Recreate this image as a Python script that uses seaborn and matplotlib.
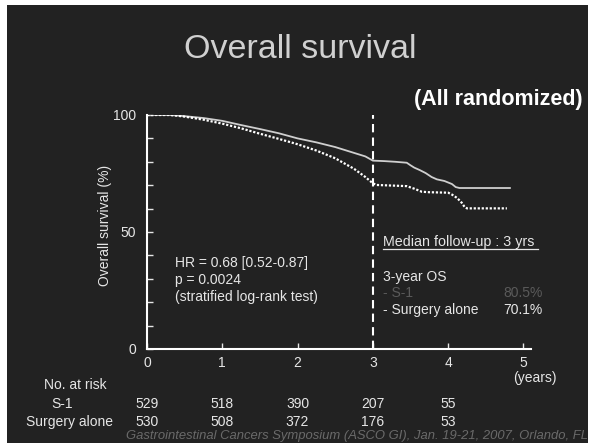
import numpy as np
import pandas as pd
import seaborn as sns
import matplotlib
matplotlib.use("Agg")
import matplotlib.pyplot as plt

# ---- data ----
s1_time = [0, 0.3, 0.4, 0.5, 0.75, 1.0, 1.25, 1.5, 1.75, 2.0, 2.25, 2.5, 2.75, 2.9, 3.0,
           3.15, 3.3, 3.45, 3.5, 3.55, 3.62, 3.7, 3.78, 3.85, 3.95, 4.05, 4.1, 4.15, 4.82]
s1_surv = [100, 100, 99.8, 99.5, 98.7, 97.5, 95.7, 94.0, 92.2, 90.0, 88.3, 86.3, 83.8, 82.3, 80.5,
           80.3, 80.0, 79.6, 78.5, 77.5, 76.5, 75.2, 73.5, 72.5, 71.8, 70.5, 69.2, 68.8, 68.8]
sa_time = [0, 0.3, 0.4, 0.5, 0.75, 1.0, 1.25, 1.5, 1.75, 2.0, 2.25, 2.5, 2.75, 2.9, 3.0,
           3.05, 3.45, 3.55, 3.65, 3.75, 4.0, 4.05, 4.12, 4.18, 4.22, 4.25, 4.78]
sa_surv = [100, 100, 99.7, 99.3, 98.0, 96.3, 94.3, 92.0, 89.8, 87.5, 84.8, 81.5, 77.0, 73.5, 70.8,
           70.1, 69.6, 68.5, 67.2, 67.0, 66.8, 66.0, 64.5, 62.5, 60.6, 60.1, 60.1]

x_ticks = [0, 1, 2, 3, 4, 5]
y_ticks = [0, 50, 100]
risk_times = [0, 1, 2, 3, 4]
risk_s1 = [529, 518, 390, 207, 55]
risk_sa = [530, 508, 372, 176, 53]

df_s1 = pd.DataFrame({"time": s1_time, "surv": s1_surv})
df_sa = pd.DataFrame({"time": sa_time, "surv": sa_surv})

W, H = 598, 443
fig = plt.figure(figsize=(W / 100, H / 100), dpi=100, facecolor="white")
bg = fig.add_axes([7 / W, 0, (588 - 7) / W, (H - 5) / H], zorder=-5)
bg.set_facecolor("#222222")
bg.set_xticks([]); bg.set_yticks([])
for sp in bg.spines.values():
    sp.set_visible(False)

ax = fig.add_axes([147 / W, (H - 349) / H, (531 - 147) / W, (349 - 115) / H], zorder=2)
ax.set_facecolor("none")

fg = "#e6e6e6"
sns.lineplot(data=df_s1, x="time", y="surv", ax=ax, estimator=None, sort=False,
             color="#cfcfcf", lw=1.3, legend=False)
sns.lineplot(data=df_sa, x="time", y="surv", ax=ax, estimator=None, sort=False,
             color="white", lw=1.6, ls=(0, (1, 0.8)), legend=False)

ax.axvline(3, ymin=0, ymax=1.0, color="white", lw=1.5, ls=(0, (4, 2.5)))

ax.set_xlim(0, 5.1)
ax.set_ylim(0, 100)
ax.set_xticks(x_ticks)
ax.set_yticks(y_ticks)
ax.set_yticks(np.arange(10, 100, 10), minor=True)
ax.tick_params(axis="both", which="both", direction="in", colors=fg,
               labelcolor=fg, labelsize=10, length=4, width=1)
ax.tick_params(axis="y", which="major", pad=8)
ax.tick_params(axis="x", which="major", pad=5)
for lab in ax.get_xticklabels() + ax.get_yticklabels():
    lab.set_family("Liberation Sans")
for sp in ["top", "right"]:
    ax.spines[sp].set_visible(False)
for sp in ["left", "bottom"]:
    ax.spines[sp].set_color("white")
    ax.spines[sp].set_linewidth(1.5)
ax.set_xlabel("")
ax.set_ylabel("Overall survival (%)", color=fg, fontsize=10, family="Liberation Sans")
ax.yaxis.set_label_coords((112 - 147) / 384, (349 - 225) / 234)

font = dict(family="Liberation Sans", color=fg)

def ftext(x, y, s, **kw):
    d = dict(font)
    d.update(kw)
    fig.text(x / W, 1 - y / H, s, **d)

ftext(300, 49, "Overall survival", fontsize=24.5, ha="center", va="center", color="#d0d0d0")
ftext(583, 99, "(All randomized)", fontsize=15.5, fontweight="bold", ha="right", va="center", color="white")
ftext(535, 378, "(years)", fontsize=10, ha="center", va="center")

ftext(175, 263, "HR = 0.68 [0.52-0.87]", fontsize=10, va="center")
ftext(175, 280, "p = 0.0024", fontsize=10, va="center")
ftext(175, 297, "(stratified log-rank test)", fontsize=10, va="center")

ftext(383, 242, "Median follow-up : 3 yrs", fontsize=10.3, va="center")
fig.add_artist(plt.Line2D([383 / W, 538 / W], [1 - 249 / H, 1 - 249 / H],
                          color=fg, lw=0.9, transform=fig.transFigure))
ftext(383, 277, "3-year OS", fontsize=10, va="center")
ftext(383, 293, "- S-1", fontsize=10, va="center", color="#5a5a5a")
ftext(543, 293, "80.5%", fontsize=10, va="center", ha="right", color="#5a5a5a")
ftext(383, 310, "- Surgery alone", fontsize=10, va="center")
ftext(543, 310, "70.1%", fontsize=10, va="center", ha="right")

ftext(75, 385, "No. at risk", fontsize=10, va="center", ha="center")
ftext(62, 404, "S-1", fontsize=10, va="center", ha="center")
ftext(70, 422, "Surgery alone", fontsize=10, va="center", ha="center")
trans = ax.get_xaxis_transform()
for t, a, b in zip(risk_times, risk_s1, risk_sa):
    ax.text(t, 1 - (404 - 115) / 234, str(a), transform=trans, ha="center",
            va="center", fontsize=10, clip_on=False, **font)
    ax.text(t, 1 - (422 - 115) / 234, str(b), transform=trans, ha="center",
            va="center", fontsize=10, clip_on=False, **font)

ftext(588, 436, "Gastrointestinal Cancers Symposium (ASCO GI), Jan. 19-21, 2007, Orlando, FL",
      fontsize=9.4, style="italic", ha="right", va="center", color="#6a6a6a")

fig.savefig("out.png", dpi=100, facecolor=fig.get_facecolor())
